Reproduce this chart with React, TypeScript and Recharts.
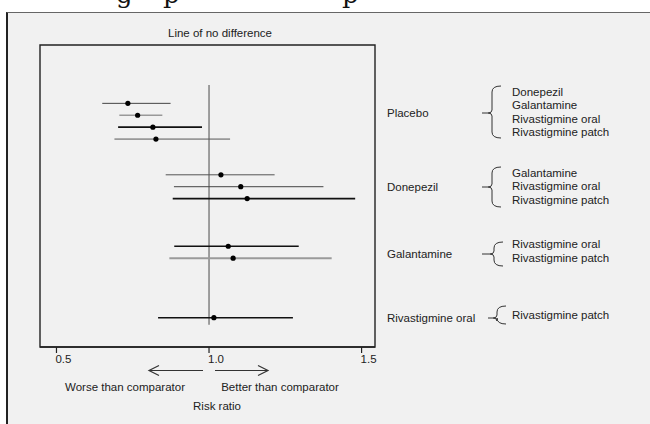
import React from "react";
import {
  ScatterChart,
  Scatter,
  XAxis,
  YAxis,
  ErrorBar,
  ReferenceLine,
  ReferenceArea,
} from "recharts";

// comparators (right-hand group labels) and the treatments compared against each
const COMPARATORS = ["Placebo", "Donepezil", "Galantamine", "Rivastigmine oral"];
const TREATMENTS = [
  ["Donepezil", "Galantamine", "Rivastigmine oral", "Rivastigmine patch"],
  ["Galantamine", "Rivastigmine oral", "Rivastigmine patch"],
  ["Rivastigmine oral", "Rivastigmine patch"],
  ["Rivastigmine patch"],
];

// one entry per comparison row, top to bottom
const ROW_SLOT = [0, 1, 2, 3, 6, 7, 8, 12, 13, 18];
const RISK_RATIO = [0.734, 0.766, 0.816, 0.826, 1.039, 1.104, 1.125, 1.063, 1.079, 1.016];
const CI_LOW = [0.65, 0.706, 0.702, 0.69, 0.858, 0.885, 0.881, 0.886, 0.87, 0.833];
const CI_HIGH = [0.874, 0.847, 0.977, 1.069, 1.215, 1.375, 1.479, 1.294, 1.402, 1.275];

const X_TICKS = [0.5, 1.0, 1.5];
const X_DOMAIN = [0.446, 1.544];
const Y_DOMAIN = [-4.9, 20.46];
const NO_DIFF = 1.0;
const NO_DIFF_SPAN = [-1.55, 18.6];

// line styles per row
const ROW_STYLE = [
  { stroke: "#444", w: 1 },
  { stroke: "#999", w: 1.5 },
  { stroke: "#111", w: 1.7 },
  { stroke: "#555", w: 1 },
  { stroke: "#555", w: 1 },
  { stroke: "#444", w: 1 },
  { stroke: "#111", w: 1.7 },
  { stroke: "#111", w: 1.7 },
  { stroke: "#9a9a9a", w: 2 },
  { stroke: "#111", w: 1.6 },
];

const FONT = "'Liberation Sans', Arial, sans-serif";
const INK = "#222";

const rows = ROW_SLOT.map((slot, i) => ({
  x: RISK_RATIO[i],
  y: slot,
  err: [RISK_RATIO[i] - CI_LOW[i], CI_HIGH[i] - RISK_RATIO[i]],
}));

// annotation layout (right side)
const GROUP_Y = [113, 187, 254, 318];
const FIRST_ITEM_Y = [92, 173, 244.3, 315];
const BRACE = [
  { top: 86, bottom: 138, x: 492, tick: 482 },
  { top: 167, bottom: 207, x: 492, tick: 482 },
  { top: 242, bottom: 266, x: 494, tick: 482 },
  { top: 306, bottom: 324, x: 497, tick: 488 },
];

function bracePath(b: { top: number; bottom: number; x: number; tick: number }, mid: number) {
  const r = 4;
  return [
    `M${b.x + 9} ${b.top} Q${b.x} ${b.top} ${b.x} ${b.top + r + 2}`,
    `L${b.x} ${mid - 3} Q${b.x} ${mid} ${b.x - 4} ${mid} L${b.tick} ${mid}`,
    `M${b.x - 4} ${mid} Q${b.x} ${mid} ${b.x} ${mid + 3}`,
    `L${b.x} ${b.bottom - r - 2} Q${b.x} ${b.bottom} ${b.x + 9} ${b.bottom}`,
  ].join(" ");
}

function Annotations() {
  return (
    <svg
      width={650}
      height={424}
      style={{ position: "absolute", left: 0, top: 0, pointerEvents: "none" }}
      fontFamily={FONT}
      fontSize={11.5}
      fill={INK}
    >
      {/* bit of the caption above, cut off by the crop */}
      <g fontFamily="'DejaVu Serif', serif" fontSize={26} fill="#111">
        <text x={116} y={3}>g</text>
        <text x={163} y={3}>p</text>
        <text x={342} y={3}>p</text>
      </g>
      <text x={220} y={37} textAnchor="middle">Line of no difference</text>

      {COMPARATORS.map((c, gi) => (
        <g key={c}>
          <text x={387} y={GROUP_Y[gi] + 4}>{c}</text>
          <path d={bracePath(BRACE[gi], GROUP_Y[gi])} fill="none" stroke="#333" strokeWidth={1} />
          {TREATMENTS[gi].map((t, ti) => (
            <text key={t} x={512} y={FIRST_ITEM_Y[gi] + ti * 13.4 + 4}>{t}</text>
          ))}
        </g>
      ))}

      {/* direction arrows under the axis */}
      <g stroke="#333" strokeWidth={1.2} fill="none">
        <path d="M203 370.5 L149 370.5 M159 365.5 L149 370.5 L159 375.5" />
        <path d="M215 370.5 L268 370.5 M258 365.5 L268 370.5 L258 375.5" />
      </g>
      <text x={125} y={391} textAnchor="middle">Worse than comparator</text>
      <text x={280} y={391} textAnchor="middle">Better than comparator</text>
      <text x={217} y={410} textAnchor="middle">Risk ratio</text>
    </svg>
  );
}

const XTick = (props: any) => (
  <text x={props.x - 1} y={props.y} dy={10} fontFamily={FONT} fontSize={11.5} fill={INK}>
    {Number(props.payload.value).toFixed(1)}
  </text>
);

export default function App() {
  return (
    <div style={{ position: "absolute", left: 0, top: 0, width: 650, height: 424, background: "#fff", overflow: "hidden" }}>
      <div
        style={{
          position: "absolute",
          left: 6,
          top: 12,
          width: 660,
          height: 430,
          background: "#f1f1f1",
          borderTop: "1.5px solid #666",
          borderLeft: "2px solid #222",
        }}
      />
      <div style={{ position: "absolute", left: 0, top: 0 }}>
        <ScatterChart width={650} height={424} margin={{ top: 45, right: 275, bottom: 47, left: 40 }}>
          <XAxis
            type="number"
            dataKey="x"
            domain={X_DOMAIN}
            allowDataOverflow
            ticks={X_TICKS}
            tickSize={6}
            tickMargin={0}
            height={30}
            axisLine={{ stroke: "#222", strokeWidth: 1.4 }}
            tickLine={{ stroke: "#222", strokeWidth: 1.2 }}
            tick={<XTick />}
          />
          <YAxis
            type="number"
            dataKey="y"
            domain={Y_DOMAIN}
            allowDataOverflow
            reversed
            width={0}
            hide
          />
          {/* plot frame */}
          <ReferenceArea
            x1={X_DOMAIN[0]}
            x2={X_DOMAIN[1]}
            y1={Y_DOMAIN[0]}
            y2={Y_DOMAIN[1]}
            fill="none"
            fillOpacity={0}
            stroke="#222"
            strokeWidth={1.4}
            ifOverflow="visible"
          />
          <ReferenceLine
            segment={[
              { x: NO_DIFF, y: NO_DIFF_SPAN[0] },
              { x: NO_DIFF, y: NO_DIFF_SPAN[1] },
            ]}
            stroke="#666"
            strokeWidth={1.2}
            ifOverflow="visible"
          />
          {rows.map((r, i) => (
            <Scatter
              key={"ci" + i}
              data={[r]}
              isAnimationActive={false}
              shape={() => <g />}
            >
              <ErrorBar
                dataKey="err"
                direction="x"
                width={0}
                stroke={ROW_STYLE[i].stroke}
                strokeWidth={ROW_STYLE[i].w}
                isAnimationActive={false}
              />
            </Scatter>
          ))}
          <Scatter
            data={rows}
            isAnimationActive={false}
            shape={(p: any) => <circle cx={p.cx} cy={p.cy} r={2.6} fill="#000" />}
          />
        </ScatterChart>
      </div>
      <Annotations />
    </div>
  );
}
